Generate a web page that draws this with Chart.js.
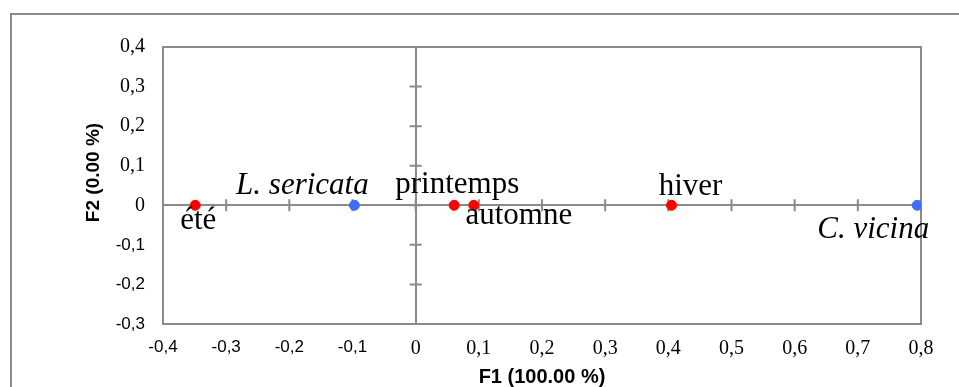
<!DOCTYPE html>
<html>
<head>
<meta charset="utf-8">
<script src="https://cdn.jsdelivr.net/npm/chart.js@4"></script>
<style>
  body { margin: 0; background: #fff; overflow: hidden; }
  .wrap { position: relative; width: 959px; height: 387px; }
</style>
</head>
<body>
<div class="wrap"><canvas id="afc"></canvas></div>
<script>
// seasons (red points)
const seasonNames = ['été', 'printemps', 'automne', 'hiver'];
const seasonF1 = [-0.349, 0.061, 0.092, 0.405];
const seasonF2 = [0, 0, 0, 0];

// species (blue points)
const speciesNames = ['L. sericata', 'C. vicina'];
const speciesF1 = [-0.097, 0.794];
const speciesF2 = [0, 0];

const xTicks = [-0.4, -0.3, -0.2, -0.1, 0, 0.1, 0.2, 0.3, 0.4, 0.5, 0.6, 0.7, 0.8];
const xTickLabels = ['-0,4', '-0,3', '-0,2', '-0,1', '0', '0,1', '0,2', '0,3', '0,4', '0,5', '0,6', '0,7', '0,8'];
const yTicks = [-0.3, -0.2, -0.1, 0, 0.1, 0.2, 0.3, 0.4];
const yTickLabels = ['-0,3', '-0,2', '-0,1', '0', '0,1', '0,2', '0,3', '0,4'];

const xTitle = 'F1 (100.00 %)';
const yTitle = 'F2 (0.00 %)';

const AXIS_GREY = '#8a8a8a';
const SANS = 'Liberation Sans, Arial, sans-serif';
const SERIF = 'Liberation Serif, Times New Roman, serif';

// where each text label sits relative to its point (dx from centre, dy to baseline)
const labelPlacement = {
  'été': { dx: 3, dy: 24, italic: false },
  'printemps': { dx: 3, dy: -12, italic: false },
  'automne': { dx: 45, dy: 19, italic: false },
  'hiver': { dx: 19, dy: -10, italic: false },
  'L. sericata': { dx: -52, dy: -11, italic: true },
  'C. vicina': { dx: -44, dy: 33, italic: true }
};

const toPoints = (xs, ys) => xs.map((x, i) => ({ x: x, y: ys[i] }));
const isZero = v => Math.abs(v) < 1e-9;
// excel mixes fonts: negatives in sans, the rest in serif
const tickFont = (c) => (c.tick && c.tick.value >= -1e-9
  ? { family: SERIF, size: 20 }
  : { family: SANS, size: 17 });

const framePlugin = {
  id: 'frame',
  beforeDraw: (chart) => {
    const ctx = chart.ctx;
    ctx.save();
    ctx.fillStyle = '#fff';
    ctx.fillRect(0, 0, chart.width, chart.height);
    // outer chart border
    ctx.strokeStyle = AXIS_GREY;
    ctx.lineWidth = 2;
    ctx.strokeRect(11, 14, chart.width + 20, chart.height + 20);
    ctx.restore();
  },
  beforeDatasetsDraw: (chart) => {
    const ctx = chart.ctx;
    const area = chart.chartArea;
    const xs = chart.scales.x;
    const ys = chart.scales.y;
    const x0 = xs.getPixelForValue(0);
    const y0 = ys.getPixelForValue(0);
    ctx.save();
    ctx.strokeStyle = AXIS_GREY;
    ctx.lineWidth = 2;
    ctx.strokeRect(area.left, area.top, area.right - area.left, area.bottom - area.top);
    ctx.beginPath();
    // cross ticks on the central axes
    xTicks.forEach(v => {
      const px = xs.getPixelForValue(v);
      ctx.moveTo(px, y0 - 6);
      ctx.lineTo(px, y0 + 6);
    });
    yTicks.forEach(v => {
      const py = ys.getPixelForValue(v);
      ctx.moveTo(x0 - 6, py);
      ctx.lineTo(x0 + 6, py);
    });
    ctx.stroke();
    ctx.restore();
  },
  afterDatasetsDraw: (chart) => {
    const ctx = chart.ctx;
    ctx.save();
    ctx.fillStyle = '#000';
    ctx.textAlign = 'center';
    ctx.textBaseline = 'alphabetic';
    chart.data.datasets.forEach((dataset, di) => {
      const meta = chart.getDatasetMeta(di);
      meta.data.forEach((el, i) => {
        const name = dataset.names[i];
        const place = labelPlacement[name];
        ctx.font = (place.italic ? 'italic ' : '') + '31px ' + SERIF;
        ctx.fillText(name, el.x + place.dx, el.y + place.dy);
      });
    });
    // y title sits a bit above the middle of the plot, as in the original
    const area = chart.chartArea;
    ctx.translate(94, (area.top + area.bottom) / 2 - 13);
    ctx.rotate(-Math.PI / 2);
    ctx.textBaseline = 'middle';
    ctx.font = 'bold 19px ' + SANS;
    ctx.fillText(yTitle, 0, 0);
    ctx.restore();
  }
};

new Chart(document.getElementById('afc'), {
  type: 'scatter',
  data: {
    datasets: [
      {
        label: 'Saisons',
        names: seasonNames,
        data: toPoints(seasonF1, seasonF2),
        backgroundColor: '#ff0000',
        borderColor: '#ff0000',
        pointRadius: 5,
        pointHoverRadius: 5
      },
      {
        label: 'Espèces',
        names: speciesNames,
        data: toPoints(speciesF1, speciesF2),
        backgroundColor: '#3b6ef5',
        borderColor: '#3b6ef5',
        pointRadius: 5,
        pointHoverRadius: 5
      }
    ]
  },
  options: {
    responsive: true,
    maintainAspectRatio: false,
    animation: false,
    layout: { padding: { left: 84, top: 47, right: 38, bottom: 0 } },
    plugins: {
      legend: { display: false },
      tooltip: { enabled: false }
    },
    scales: {
      x: {
        type: 'linear',
        min: -0.4,
        max: 0.8,
        afterBuildTicks: (scale) => { scale.ticks = xTicks.map(v => ({ value: v })); },
        afterFit: (scale) => { scale.height = 63; },
        border: { display: false },
        grid: {
          drawTicks: false,
          lineWidth: 2,
          color: (c) => (c.tick && isZero(c.tick.value) ? AXIS_GREY : 'rgba(0,0,0,0)')
        },
        ticks: {
          padding: 13,
          color: '#000',
          maxRotation: 0,
          autoSkip: false,
          callback: (v, i) => xTickLabels[i],
          font: tickFont
        },
        title: {
          display: true,
          text: xTitle,
          color: '#000',
          padding: { top: 0, bottom: -2 },
          font: { family: SANS, size: 20, weight: 'bold' }
        }
      },
      y: {
        type: 'linear',
        min: -0.3,
        max: 0.4,
        afterBuildTicks: (scale) => { scale.ticks = yTicks.map(v => ({ value: v })); },
        afterFit: (scale) => { scale.width = 79; },
        border: { display: false },
        grid: {
          drawTicks: false,
          lineWidth: 2,
          color: (c) => (c.tick && isZero(c.tick.value) ? AXIS_GREY : 'rgba(0,0,0,0)')
        },
        ticks: {
          padding: 18,
          color: '#000',
          autoSkip: false,
          callback: (v, i) => yTickLabels[i],
          font: tickFont
        },
        title: { display: false }
      }
    }
  },
  plugins: [framePlugin]
});
</script>
</body>
</html>
